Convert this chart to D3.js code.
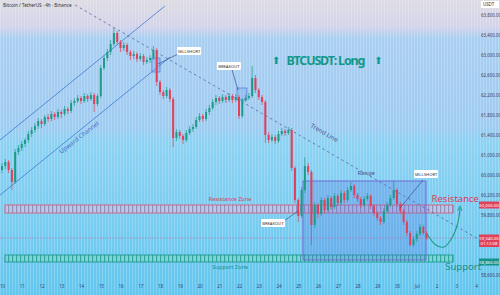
<!DOCTYPE html>
<html>
<head>
<meta charset="utf-8">
<script src="https://cdn.jsdelivr.net/npm/d3@7"></script>
<style>
  body { margin: 0; background: #fff; }
  svg { display: block; font-family: "Noto Sans", "DejaVu Sans", sans-serif; }
</style>
</head>
<body>
<div id="chart"></div>
<script>
// x axis: one label per day, candles are 4h
var dayLabels = ["10","11","12","13","14","15","16","17","18","19","20","21","22","23","24","25","26","27","28","29","30","Jul","2","3","4"];
var priceTicks = [63800,63400,63000,62600,62200,61800,61400,61000,60600,60200,59800,58600];

var open = [60700,60780,60860,60700,60460,61060,61140,61220,61300,61420,61500,61580,61680,61620,61760,61720,61820,61760,61860,61820,
  61920,61880,62040,62080,62140,62080,62180,62120,62200,62020,62180,62740,62940,63060,63220,63440,63260,63140,63200,63060,
  62980,63020,62920,62980,62860,62900,62940,63100,62460,62260,62180,62300,62120,61340,61460,61380,61300,61440,61520,61560,
  61700,61780,61720,61860,61940,62060,62140,62080,62160,62100,62180,62100,62160,61780,62100,62140,62180,62540,62300,62160,
  62060,61400,61300,61360,61280,61420,61480,61440,61500,60740,60100,59780,60300,60780,60660,59600,60000,59820,60100,59900,
  60140,59960,60180,60040,60240,60100,60300,60380,60200,60120,60000,60120,60180,59980,59840,59740,59660,59880,60000,60140,
  60300,60020,59880,59660,59440,59200,59320,59420,59560,59440];
var high = [60840,60920,60900,60740,61120,61200,61280,61340,61480,61560,61640,61740,61720,61800,61820,61880,61860,61920,61900,61980,
  61960,62100,62140,62200,62180,62240,62220,62260,62240,62220,62800,63000,63120,63300,63540,63480,63300,63260,63240,63100,
  63080,63060,63040,63020,62960,63000,63180,63140,62500,62300,62360,62340,62160,61520,61500,61420,61500,61580,61620,61760,
  61840,61820,61920,62000,62120,62200,62180,62220,62200,62240,62220,62220,62200,62140,62200,62240,62780,62600,62340,62200,
  62100,61460,61420,61400,61480,61540,61520,61560,61540,60780,60140,60360,60960,60840,60700,60060,60040,60160,60140,60200,
  60180,60240,60220,60300,60280,60360,60460,60420,60240,60160,60180,60240,60220,60020,59880,59780,59940,60060,60200,60480,
  60340,60060,59920,59700,59480,59380,59480,59620,59600,59480];
var low = [60640,60720,60640,60300,60420,61000,61080,61160,61240,61360,61440,61520,61540,61580,61660,61680,61700,61720,61740,61780,
  61820,61840,61980,62040,62020,62040,62060,62080,61860,61980,62140,62700,62880,63000,63180,63200,63060,63080,63000,62900,
  62920,62860,62880,62800,62820,62840,62900,62380,62200,62120,62140,62060,61160,61280,61320,61220,61260,61400,61460,61520,
  61660,61660,61680,61800,61900,62000,62020,62040,62040,62060,62040,62060,61720,61740,62060,62100,62140,62240,62100,62000,
  61240,61240,61260,61220,61240,61380,61380,61400,60680,60040,59660,59740,60240,60600,59200,59540,59740,59780,59840,59860,
  59900,59920,59980,60000,60040,60060,60260,60140,60060,59940,59960,60080,59920,59780,59680,59600,59620,59840,59960,60100,
  59960,59820,59600,59380,59180,59160,59260,59380,59400,59300];
var close = [60780,60860,60700,60460,61060,61140,61220,61300,61420,61500,61580,61680,61620,61760,61720,61820,61760,61860,61820,61920,
  61880,62040,62080,62140,62080,62180,62120,62200,62020,62180,62740,62940,63060,63220,63440,63260,63140,63200,63060,62980,
  63020,62920,62980,62860,62900,62940,63100,62460,62260,62180,62300,62120,61340,61460,61380,61300,61440,61520,61560,61700,
  61780,61720,61860,61940,62060,62140,62080,62160,62100,62180,62100,62160,61780,62100,62140,62180,62540,62300,62160,62060,
  61400,61300,61360,61280,61420,61480,61440,61500,60740,60100,59780,60300,60780,60660,59600,60000,59820,60100,59900,60140,
  59960,60180,60040,60240,60100,60300,60380,60200,60120,60000,60120,60180,59980,59840,59740,59660,59880,60000,60140,60300,
  60020,59880,59660,59440,59200,59320,59420,59560,59440,59340];

// drawings, in [day, price]
var channelUpper = [[-0.1, 61300], [8.25, 63980]];
var channelLower = [[-0.1, 60200], [8.51, 62960]];
var trendLine = [[3.7, 64000], [24.2, 59300]];
var resistanceZone = [0.15, 22.84, 59840, 60000];
var supportZone = [0.15, 22.84, 58860, 59000];
var rangeBox = [15.24, 21.47, 58900, 60480];
var projection = [[21.52, 59420], [21.97, 59200], [22.38, 59160], [22.78, 59340], [23.09, 59660], [23.19, 59940]];
var markBoxes = [[7.59, 8.0, 62660, 62940], [11.9, 12.4, 62100, 62340]];
var callouts = [
  {text: "SELLSHORT", at: [9.47, 63080], line: [[8.91, 63020], [7.9, 62820]]},
  {text: "BREAKOUT", at: [11.49, 62780], line: [[11.65, 62700], [11.95, 62300]]},
  {text: "BREAKOUT", at: [13.72, 59640], line: [[14.28, 59680], [14.99, 59880]]},
  {text: "SELLSHORT", at: [21.47, 60620], line: [[21.32, 60500], [20.15, 59940]]}
];
var lastPrice = 59340, resistancePrice = 60000, supportPrice = 58860;

var W = 500, H = 295, plotR = 479, plotB = 283;
var red = "#e2405a", green = "#1c9c88";

var x = d3.scaleLinear().domain([0, 24]).range([2, 476]);
var y = d3.scaleLinear().domain([58440, 64100]).range([plotB, 0]);
var fmt = d3.format(",.2f");

var svg = d3.select("#chart").append("svg").attr("width", W).attr("height", H);
var defs = svg.append("defs");

var grad = defs.append("linearGradient").attr("id", "bg").attr("x1", 0).attr("y1", 0).attr("x2", 0).attr("y2", 1);
[[0, "#dddce3"], [0.09, "#d3d3ea"], [0.13, "#a9cff1"], [0.43, "#9fccf1"], [0.48, "#8dd2f3"], [0.8, "#74cbf0"], [1, "#62c6ee"]]
  .forEach(function(s) { grad.append("stop").attr("offset", s[0]).attr("stop-color", s[1]); });

defs.append("pattern").attr("id", "stripes").attr("width", 3).attr("height", 4).attr("patternUnits", "userSpaceOnUse")
  .append("rect").attr("width", 1).attr("height", 4).attr("fill", "#fff").attr("opacity", 0.2);
var hatch = function(id, base, line) {
  var p = defs.append("pattern").attr("id", id).attr("width", 4).attr("height", 4).attr("patternUnits", "userSpaceOnUse");
  p.append("rect").attr("width", 4).attr("height", 4).attr("fill", base);
  p.append("rect").attr("width", 1.2).attr("height", 4).attr("fill", line);
};
hatch("resHatch", "#bcc6e6", "#8f93c0");
hatch("supHatch", "#7ed6d4", "#35a8a6");

defs.append("marker").attr("id", "arrow").attr("viewBox", "0 0 10 10").attr("refX", 5).attr("refY", 5)
  .attr("markerWidth", 5).attr("markerHeight", 5).attr("orient", "auto")
  .append("path").attr("d", "M0,1 L9,5 L0,9").attr("fill", "none").attr("stroke", green).attr("stroke-width", 1.6);

svg.append("rect").attr("width", W).attr("height", H).attr("fill", "url(#bg)");
svg.append("rect").attr("width", W).attr("height", H).attr("fill", "url(#stripes)");

var line = d3.line().x(function(d) { return x(d[0]); }).y(function(d) { return y(d[1]); });

// zones
function zone(z, fillId, stroke) {
  svg.append("rect").attr("x", x(z[0])).attr("y", y(z[3])).attr("width", x(z[1]) - x(z[0]))
    .attr("height", y(z[2]) - y(z[3])).attr("fill", "url(#" + fillId + ")").attr("stroke", stroke).attr("stroke-width", 0.8);
}
zone(resistanceZone, "resHatch", "#e0506a");
zone(supportZone, "supHatch", "#17918a");

// channel
svg.append("path").datum(channelUpper).attr("d", line).attr("stroke", "#3f78d6").attr("stroke-width", 0.8).attr("fill", "none");
svg.append("path").datum(channelLower).attr("d", line).attr("stroke", "#3f78d6").attr("stroke-width", 0.8).attr("fill", "none");

// trend line
svg.append("path").datum(trendLine).attr("d", line).attr("stroke", "#5a5f9c").attr("stroke-width", 0.8)
  .attr("stroke-dasharray", "2.5,3").attr("fill", "none");

// range box
svg.append("rect").attr("x", x(rangeBox[0])).attr("y", y(rangeBox[3])).attr("width", x(rangeBox[1]) - x(rangeBox[0]))
  .attr("height", y(rangeBox[2]) - y(rangeBox[3])).attr("fill", "#5570e0").attr("fill-opacity", 0.26)
  .attr("stroke", "#6f60d6").attr("stroke-width", 0.9);

// current price line
svg.append("line").attr("x1", 0).attr("x2", plotR).attr("y1", y(lastPrice)).attr("y2", y(lastPrice))
  .attr("stroke", "#c75b95").attr("stroke-width", 0.7).attr("stroke-dasharray", "1,1.5");

// small marker boxes
markBoxes.forEach(function(b) {
  svg.append("rect").attr("x", x(b[0])).attr("y", y(b[3])).attr("width", x(b[1]) - x(b[0])).attr("height", y(b[2]) - y(b[3]))
    .attr("fill", "#7fa6e8").attr("fill-opacity", 0.35).attr("stroke", "#3f6fd0").attr("stroke-width", 0.6);
});

// candles
var candles = svg.append("g");
close.forEach(function(c, i) {
  var cx = x(i / 6), col = c >= open[i] ? green : red;
  candles.append("line").attr("x1", cx).attr("x2", cx).attr("y1", y(high[i])).attr("y2", y(low[i]))
    .attr("stroke", col).attr("stroke-width", 0.7);
  var top = y(Math.max(open[i], c)), bot = y(Math.min(open[i], c));
  candles.append("rect").attr("x", cx - 1).attr("width", 2).attr("y", top).attr("height", Math.max(0.8, bot - top)).attr("fill", col);
});

// projection
svg.append("path").datum(projection).attr("d", line.curve(d3.curveCatmullRom)).attr("stroke", green).attr("stroke-width", 1.1)
  .attr("fill", "none").attr("marker-end", "url(#arrow)");
line.curve(d3.curveLinear);

// callouts
callouts.forEach(function(c) {
  svg.append("path").datum(c.line).attr("d", line).attr("stroke", "#2f3f7a").attr("stroke-width", 0.6).attr("fill", "none");
  var bx = x(c.at[0]), by = y(c.at[1]);
  svg.append("rect").attr("x", bx - 12).attr("y", by - 4).attr("width", 24).attr("height", 8).attr("fill", "#fff").attr("rx", 1);
  svg.append("text").attr("x", bx).attr("y", by + 1.6).attr("text-anchor", "middle").attr("font-size", 4.2)
    .attr("fill", "#333").text(c.text);
});

// texts on chart
function label(t, d, opt) {
  var el = svg.append("text").attr("x", x(d[0])).attr("y", y(d[1])).attr("font-size", opt.size).attr("fill", opt.fill).text(t);
  if (opt.rot) el.attr("transform", "rotate(" + opt.rot + "," + x(d[0]) + "," + y(d[1]) + ")");
  if (opt.anchor) el.attr("text-anchor", opt.anchor);
  if (opt.weight) el.attr("font-weight", opt.weight);
  return el;
}
label("Upward Channel", [3.0, 61020], {size: 6.2, fill: "#4d6fc4", rot: -38});
label("Trend Line", [15.6, 61560], {size: 6.2, fill: "#4a5690", rot: 30});
label("Range", [18.0, 60600], {size: 5.8, fill: "#4a5690"});
label("Resistance Zone", [11.55, 60080], {size: 5.6, fill: "#d8405a", anchor: "middle"});
label("Support Zone", [11.55, 58720], {size: 5.6, fill: "#17918a", anchor: "middle"});
label("Resistance", [22.95, 60060], {size: 9.5, fill: "#d8405a", anchor: "middle"});
label("Support", [23.35, 58700], {size: 9.5, fill: "#17918a", anchor: "middle"});
label("BTCUSDT: Long", [16.4, 62800], {size: 12.5, fill: "#12988a", anchor: "middle", weight: "bold"}).attr("textLength", 79);
label("⬆", [13.88, 62830], {size: 10, fill: "#12988a", anchor: "middle"});
label("⬆", [19.06, 62830], {size: 10, fill: "#12988a", anchor: "middle"});

svg.append("text").attr("x", 3).attr("y", 7).attr("font-size", 4.6).attr("fill", "#333").text("Bitcoin / TetherUS · 4h · Binance");

// axes
var yAxis = svg.append("g").attr("transform", "translate(" + (plotR + 2) + ",0)")
  .call(d3.axisRight(y).tickValues(priceTicks).tickSize(0).tickPadding(0).tickFormat(fmt));
yAxis.select(".domain").remove();
yAxis.selectAll("text").attr("font-size", 4.4).attr("fill", "#40406a").attr("font-family", "Noto Sans, sans-serif");

var xAxis = svg.append("g").attr("transform", "translate(0," + (plotB + 1) + ")")
  .call(d3.axisBottom(x).tickValues(d3.range(dayLabels.length)).tickSize(0).tickPadding(1)
    .tickFormat(function(d, i) { return dayLabels[i]; }));
xAxis.select(".domain").remove();
xAxis.selectAll("text").attr("font-size", 4.6).attr("fill", "#2a4a88").attr("font-family", "Noto Sans, sans-serif");

// price tags
svg.append("rect").attr("x", 481).attr("y", 1).attr("width", 18).attr("height", 7).attr("fill", "#fff");
svg.append("text").attr("x", 483).attr("y", 6.2).attr("font-size", 4.4).attr("fill", "#333").text("USDT");
function tag(p, col, lines) {
  var h = lines.length * 5.5 + 1.5;
  svg.append("rect").attr("x", plotR).attr("y", y(p) - 3.5).attr("width", 20).attr("height", h).attr("fill", col);
  lines.forEach(function(t, i) {
    svg.append("text").attr("x", plotR + 10).attr("y", y(p) + 1.6 + i * 5.5).attr("text-anchor", "middle")
      .attr("font-size", 4.3).attr("fill", "#fff").text(t);
  });
}
tag(resistancePrice, "#e0405a", [fmt(resistancePrice)]);
tag(lastPrice, "#e0405a", [fmt(lastPrice), "01:12:08"]);
tag(supportPrice, "#17918a", [fmt(supportPrice)]);
</script>
</body>
</html>
